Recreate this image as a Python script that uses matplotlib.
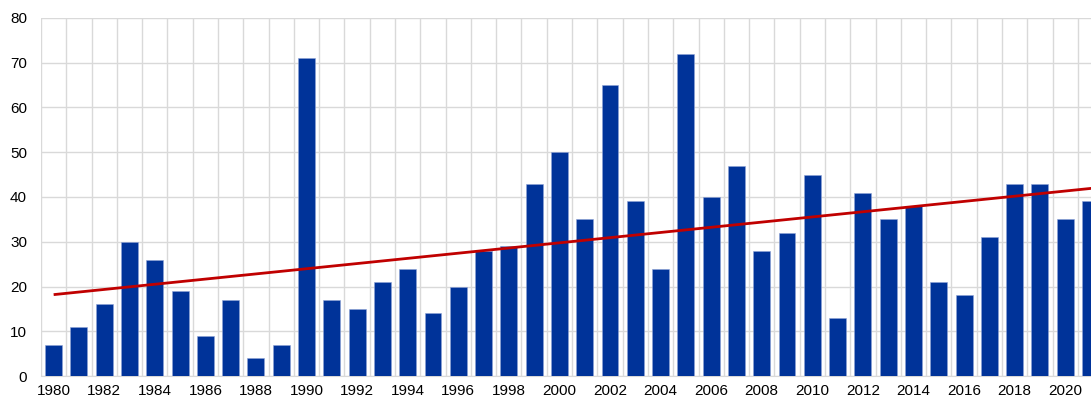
import matplotlib
matplotlib.use("Agg")
import matplotlib.pyplot as plt
import numpy as np

years = list(range(1980, 2022))
values = [7, 11, 16, 30, 26, 19, 9, 17, 4, 7,
          71, 17, 15, 21, 24, 14, 20, 28, 29, 43,
          50, 35, 65, 39, 24, 72, 40, 47, 28, 32,
          45, 13, 41, 35, 38, 21, 18, 31, 43, 43,
          35, 39]
tick_labels = [str(y) if y % 2 == 0 else "" for y in years]

plt.rcParams['font.family'] = ['Liberation Sans', 'DejaVu Sans']
fig = plt.figure(figsize=(10.91, 4.01), dpi=100)
ax = fig.add_axes([41/1091, 1-376/401, 1-41/1091, (376-18)/401])

x = np.arange(len(years))
ax.bar(x, values, width=0.67, color='#003399', edgecolor='#8fa3d6', linewidth=0.4, zorder=3)

coef = np.polyfit(x, values, 1)
xt = np.array([0, len(years) - 1 + 0.6])
ax.plot(xt, np.polyval(coef, xt), color='#c00000', lw=2, zorder=4, solid_capstyle='butt')

ax.set_yticks(range(0, 81, 10))
ax.set_xticks(x)
ax.set_xticklabels(tick_labels)
ax.set_xticks(np.arange(-0.5, 42, 1), minor=True)
ax.set_xlim(-0.5, 41.02)
ax.set_ylim(0, 80)
ax.grid(False)
ax.grid(axis='x', which='minor', color='#d9d9d9', lw=1, zorder=0)
ax.grid(axis='y', which='major', color='#d9d9d9', lw=1, zorder=0)
ax.tick_params(axis='both', which='both', length=0, labelsize=11, colors='#000000')
ax.tick_params(axis='x', pad=6)
ax.tick_params(axis='y', pad=10)
for s in ax.spines.values():
    s.set_visible(False)
ax.spines['bottom'].set_visible(True)
ax.spines['bottom'].set_color('#d9d9d9')
ax.spines['bottom'].set_zorder(2)

fig.savefig('out.png', dpi=100)
